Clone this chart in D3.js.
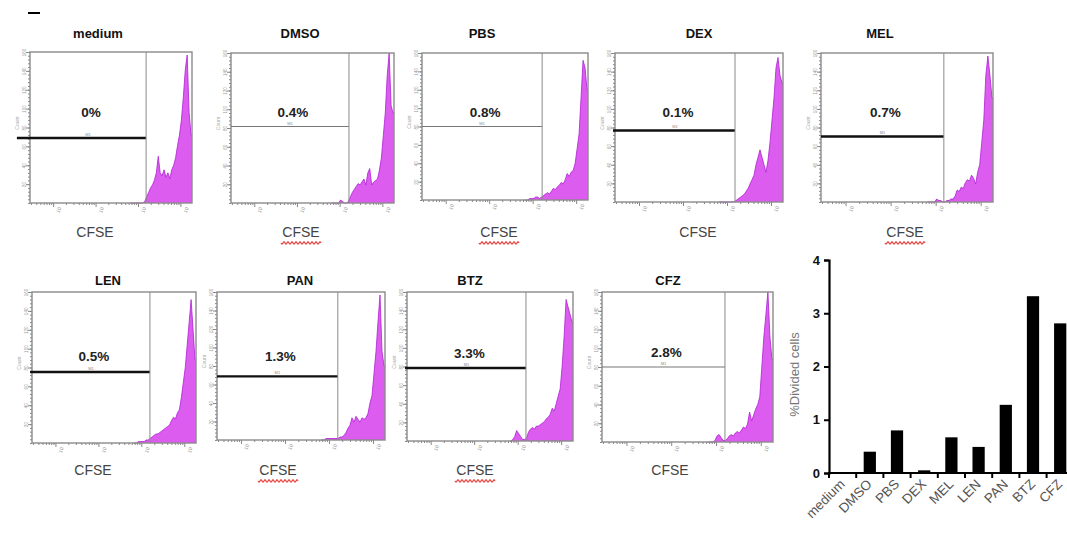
<!DOCTYPE html>
<html>
<head>
<meta charset="utf-8">
<script src="https://cdn.jsdelivr.net/npm/d3@7"></script>
<style>
  body { margin: 0; background: #fff; }
  svg { display: block; }
  text { font-family: "Liberation Sans", Arial, sans-serif; }
</style>
</head>
<body>
<svg id="fig" width="1067" height="534"></svg>
<script>
// ---- data ----
const samples = ["medium", "DMSO", "PBS", "DEX", "MEL", "LEN", "PAN", "BTZ", "CFZ"];
const gateLabels = ["0%", "0.4%", "0.8%", "0.1%", "0.7%", "0.5%", "1.3%", "3.3%", "2.8%"];
const dividedPct = [0, 0.4, 0.8, 0.05, 0.67, 0.49, 1.28, 3.32, 2.81];
const barTicks = [0, 1, 2, 3, 4];

// CFSE histogram bins (log decades), counts as fraction of panel height
const binStart = 2.6;
const binWidth = 0.05;
const histMedium = [0, 0, 0, 0, 0, 0, 0, 0.01, 0.04, 0.07, 0.1, 0.12, 0.15, 0.2, 0.31, 0.2, 0.18, 0.22, 0.17, 0.2, 0.16, 0.22, 0.25, 0.3, 0.38, 0.45, 0.55, 0.7, 0.88, 0.98, 0.6, 0.45];
const histDMSO = [0, 0, 0, 0, 0.02, 0.01, 0, 0, 0.01, 0.04, 0.07, 0.09, 0.11, 0.13, 0.12, 0.14, 0.16, 0.12, 0.2, 0.23, 0.12, 0.14, 0.15, 0.16, 0.22, 0.3, 0.45, 0.6, 0.85, 1.0, 0.65, 0.6];
const histPBS = [0, 0, 0.01, 0.01, 0.01, 0.02, 0.02, 0.01, 0.02, 0.03, 0.04, 0.05, 0.04, 0.06, 0.08, 0.07, 0.09, 0.1, 0.12, 0.11, 0.14, 0.18, 0.16, 0.19, 0.2, 0.25, 0.35, 0.45, 0.7, 0.95, 0.9, 0.75];
const histDEX = [0, 0, 0, 0, 0, 0, 0, 0, 0.01, 0.02, 0.03, 0.04, 0.05, 0.07, 0.09, 0.12, 0.15, 0.18, 0.25, 0.3, 0.35, 0.3, 0.25, 0.2, 0.28, 0.4, 0.55, 0.7, 0.9, 0.97, 0.85, 0.8];
const histMEL = [0, 0, 0, 0, 0.02, 0.01, 0.01, 0, 0, 0.01, 0.01, 0.02, 0.02, 0.04, 0.08, 0.07, 0.1, 0.09, 0.13, 0.15, 0.14, 0.18, 0.16, 0.12, 0.2, 0.25, 0.4, 0.55, 0.85, 0.98, 0.85, 0.7];
const histLEN = [0, 0, 0.01, 0.01, 0.01, 0.01, 0.02, 0.02, 0.03, 0.04, 0.05, 0.06, 0.06, 0.07, 0.08, 0.09, 0.1, 0.11, 0.12, 0.15, 0.17, 0.16, 0.2, 0.22, 0.3, 0.4, 0.5, 0.65, 0.8, 0.95, 0.75, 0.55];
const histPAN = [0, 0, 0.01, 0.01, 0.01, 0.01, 0.01, 0.01, 0.01, 0.02, 0.02, 0.03, 0.05, 0.08, 0.1, 0.15, 0.12, 0.16, 0.14, 0.12, 0.15, 0.14, 0.15, 0.18, 0.25, 0.3, 0.45, 0.6, 0.8, 0.98, 0.6, 0.5];
const histBTZ = [0, 0.01, 0.03, 0.07, 0.05, 0.03, 0.01, 0.01, 0.02, 0.06, 0.08, 0.09, 0.08, 0.1, 0.1, 0.11, 0.12, 0.13, 0.15, 0.16, 0.18, 0.22, 0.2, 0.25, 0.3, 0.35, 0.5, 0.7, 0.95, 0.9, 0.85, 0.8];
const histCFZ = [0, 0, 0, 0.01, 0.04, 0.05, 0.03, 0.01, 0.01, 0.02, 0.04, 0.05, 0.04, 0.06, 0.07, 0.06, 0.08, 0.1, 0.09, 0.12, 0.2, 0.14, 0.18, 0.22, 0.25, 0.3, 0.5, 0.7, 0.85, 1.0, 0.7, 0.55];
const histograms = [histMedium, histDMSO, histPBS, histDEX, histMEL, histLEN, histPAN, histBTZ, histCFZ];

// gate: divided-cell marker (start, cut in decades; level as fraction of height)
const gateFrom = [-0.34, 0, 0, -0.05, 0, -0.05, 0, -0.05, 0];
const gateCut = [3.01, 3.04, 3.04, 3.0, 3.0, 3.02, 3.02, 3.01, 3.02];
const gateLevel = [0.43, 0.51, 0.5, 0.48, 0.44, 0.47, 0.43, 0.49, 0.5];
const gateBold = [true, false, false, true, true, true, true, true, false];
const spellMark = [false, true, true, false, true, false, true, true, false];
const decadeTicks = [-0.5, 0.6, 1.7, 2.8, 3.9];

// ---- layout ----
const boxes = [
  { x: 30, y: 52, w: 162, h: 151, tx: 98, cx: 95, row: 0 },
  { x: 231, y: 53, w: 163, h: 150, tx: 300, cx: 301, row: 0 },
  { x: 422, y: 53, w: 166, h: 147, tx: 482, cx: 499, row: 0 },
  { x: 615, y: 53, w: 168, h: 149, tx: 699, cx: 698, row: 0 },
  { x: 821, y: 53, w: 172, h: 149, tx: 880, cx: 905, row: 0 },
  { x: 32, y: 292, w: 164, h: 151, tx: 108, cx: 93, row: 1 },
  { x: 217, y: 292, w: 168, h: 148, tx: 300, cx: 278, row: 1 },
  { x: 407, y: 292, w: 166, h: 149, tx: 470, cx: 475, row: 1 },
  { x: 602, y: 292, w: 171, h: 150, tx: 668, cx: 670, row: 1 }
];
const titleY = [38, 285];
const pctY = [117, 361];
const cfseY = [237, 475];
const magentaFill = "#dc5cf0";
const magentaLine = "#b01fd4";

const svg = d3.select("#fig");

// little dash at the top-left corner
svg.append("line")
  .attr("x1", 28).attr("x2", 40).attr("y1", 13).attr("y2", 13)
  .attr("stroke", "#000").attr("stroke-width", 2);

samples.forEach((name, i) => {
  const b = boxes[i];
  const x = d3.scaleLinear().domain([0, 4.2]).range([b.x, b.x + b.w]);
  const y = d3.scaleLinear().domain([0, 1]).range([b.y + b.h, b.y]);
  const g = svg.append("g");

  // histogram
  const hist = histograms[i];
  const pts = [[binStart, 0]];
  hist.forEach((v, k) => pts.push([binStart + binWidth * (k + 0.5), v]));
  pts.push([4.2, hist[hist.length - 1]]);
  const area = d3.area().x(d => x(d[0])).y0(y(0)).y1(d => y(d[1]));
  const line = d3.line().x(d => x(d[0])).y(d => y(d[1]));
  g.append("path").attr("d", area(pts)).attr("fill", magentaFill);
  g.append("path").attr("d", line(pts)).attr("fill", "none")
    .attr("stroke", magentaLine).attr("stroke-width", 0.8);

  // frame
  g.append("rect")
    .attr("x", b.x).attr("y", b.y).attr("width", b.w).attr("height", b.h)
    .attr("fill", "none").attr("stroke", "#8a8a8a").attr("stroke-width", 1.4);

  // left axis (count)
  const yMinor = d3.range(0, 1.0001, 0.025);
  g.append("g")
    .attr("transform", `translate(${b.x},0)`)
    .call(d3.axisLeft(y).tickValues(yMinor).tickSize(2).tickFormat(""))
    .call(a => a.select(".domain").remove())
    .call(a => a.selectAll("line").attr("stroke", "#888"));
  g.append("g")
    .attr("transform", `translate(${b.x},0)`)
    .call(d3.axisLeft(y).tickValues(d3.range(0.125, 1.0001, 0.125)).tickSize(4)
      .tickFormat(d => Math.round(d * 160)))
    .call(a => a.select(".domain").remove())
    .call(a => a.selectAll("line").attr("stroke", "#888"))
    .call(a => a.selectAll("text").attr("font-size", 4.5).attr("fill", "#999")
      .attr("transform", "rotate(-90)").attr("x", 0).attr("dy", "-4").attr("dx", 0)
      .attr("text-anchor", "middle"));
  g.append("text")
    .attr("transform", `translate(${b.x - 11},${b.y + b.h * 0.47}) rotate(-90)`)
    .attr("text-anchor", "middle").attr("font-size", 5).attr("fill", "#aaa")
    .text("Count");

  // bottom axis (CFSE, log decades)
  const minor = [];
  decadeTicks.forEach(p => {
    for (let k = 2; k <= 9; k++) {
      const v = p + Math.log10(k) * 1.1;
      if (v > 0 && v < 4.2) minor.push(v);
    }
  });
  g.append("g")
    .attr("transform", `translate(0,${b.y + b.h})`)
    .call(d3.axisBottom(x).tickValues(minor).tickSize(2).tickFormat(""))
    .call(a => a.select(".domain").remove())
    .call(a => a.selectAll("line").attr("stroke", "#888"));
  g.append("g")
    .attr("transform", `translate(0,${b.y + b.h})`)
    .call(d3.axisBottom(x).tickValues(decadeTicks.filter(d => d > 0)).tickSize(4)
      .tickFormat(() => "10"))
    .call(a => a.select(".domain").remove())
    .call(a => a.selectAll("line").attr("stroke", "#888"))
    .call(a => a.selectAll("text").attr("font-size", 5).attr("fill", "#999")
      .attr("transform", "rotate(-70)").attr("text-anchor", "end")
      .attr("dx", "-2").attr("dy", "3").attr("y", 6).attr("x", 0));

  // gate line and label
  const gy = y(gateLevel[i]);
  g.append("line")
    .attr("x1", x(gateFrom[i])).attr("x2", x(gateCut[i]))
    .attr("y1", gy).attr("y2", gy)
    .attr("stroke", gateBold[i] ? "#111" : "#777")
    .attr("stroke-width", gateBold[i] ? 2.4 : 1.1);
  g.append("line")
    .attr("x1", x(gateCut[i])).attr("x2", x(gateCut[i]))
    .attr("y1", b.y).attr("y2", b.y + b.h)
    .attr("stroke", "#8a8a8a").attr("stroke-width", 1);
  const mid = (x(0) + x(gateCut[i])) / 2 + 3;
  g.append("text")
    .attr("x", mid - 3).attr("y", gy - 2)
    .attr("text-anchor", "middle").attr("font-size", 4).attr("fill", "#888")
    .text("M1");
  g.append("text")
    .attr("x", mid).attr("y", Math.min(pctY[b.row], gy - 10))
    .attr("text-anchor", "middle").attr("font-size", 13.5).attr("font-weight", "bold")
    .attr("fill", "#222")
    .text(gateLabels[i]);

  // title
  g.append("text")
    .attr("x", b.tx).attr("y", titleY[b.row])
    .attr("text-anchor", "middle").attr("font-size", 13).attr("font-weight", "bold")
    .attr("fill", "#111")
    .text(name);

  // CFSE axis label
  g.append("text")
    .attr("x", b.cx).attr("y", cfseY[b.row])
    .attr("text-anchor", "middle").attr("font-size", 14).attr("fill", "#444")
    .text("CFSE");
  if (spellMark[i]) {
    const wave = d3.path();
    const y0 = cfseY[b.row] + 6;
    wave.moveTo(b.cx - 20, y0);
    for (let s = b.cx - 20; s < b.cx + 20; s += 4) {
      wave.quadraticCurveTo(s + 1, y0 + 2.2, s + 2, y0);
      wave.quadraticCurveTo(s + 3, y0 - 2.2, s + 4, y0);
    }
    g.append("path").attr("d", wave.toString())
      .attr("fill", "none").attr("stroke", "#e8403a").attr("stroke-width", 1.2);
  }
});

// ---- bar chart: % divided cells ----
const bx = d3.scaleBand().domain(samples).range([829, 829 + 9 * 27.2]).paddingInner(0.55).paddingOuter(0.275);
const by = d3.scaleLinear().domain([0, 4]).range([473, 260]);
const bars = svg.append("g");

bars.selectAll("rect")
  .data(samples)
  .enter()
  .append("rect")
  .attr("x", d => bx(d))
  .attr("width", bx.bandwidth())
  .attr("y", (d, i) => by(dividedPct[i]))
  .attr("height", (d, i) => by(0) - by(dividedPct[i]))
  .attr("fill", "#000");

bars.append("g")
  .attr("transform", "translate(829,0)")
  .call(d3.axisLeft(by).tickValues(barTicks).tickSize(5).tickFormat(d3.format("d")))
  .call(a => a.select(".domain").attr("stroke-width", 2.2))
  .call(a => a.selectAll("line").attr("stroke-width", 2))
  .call(a => a.selectAll("text").attr("font-size", 13).attr("font-weight", "bold")
    .attr("fill", "#111").attr("x", -9));

bars.append("line")
  .attr("x1", 828).attr("x2", 1067).attr("y1", by(0)).attr("y2", by(0))
  .attr("stroke", "#000").attr("stroke-width", 2.2);
const step = bx.step();
bars.selectAll(".xt")
  .data(d3.range(0, 10))
  .enter()
  .append("line")
  .attr("class", "xt")
  .attr("x1", d => 829 + d * step).attr("x2", d => 829 + d * step)
  .attr("y1", by(0)).attr("y2", by(0) + 5)
  .attr("stroke", "#000").attr("stroke-width", 2);

bars.selectAll(".xl")
  .data(samples)
  .enter()
  .append("text")
  .attr("class", "xl")
  .attr("transform", d => `translate(${bx(d) + bx.bandwidth() / 2 + 3},${by(0) + 12}) rotate(-45)`)
  .attr("text-anchor", "end")
  .attr("font-size", 13.5)
  .attr("fill", "#555")
  .text(d => d);

bars.append("text")
  .attr("transform", `translate(799,${by(1.85)}) rotate(-90)`)
  .attr("text-anchor", "middle")
  .attr("font-size", 13)
  .attr("fill", "#777")
  .text("%Divided cells");
</script>
</body>
</html>
